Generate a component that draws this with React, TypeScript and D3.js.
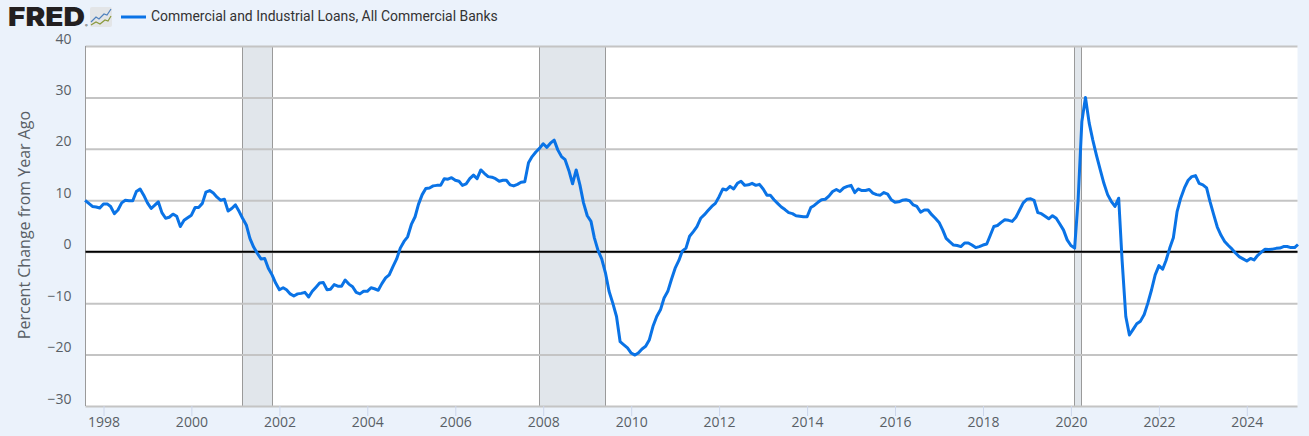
import * as React from 'react';
import * as d3 from 'd3';

const seriesName = 'Commercial and Industrial Loans, All Commercial Banks';
const yTitle = 'Percent Change from Year Ago';
const yTicks = [-30, -20, -10, 0, 10, 20, 30, 40];
const xTickYears = [1998, 2000, 2002, 2004, 2006, 2008, 2010, 2012, 2014, 2016, 2018, 2020, 2022, 2024];

// monthly, Aug 1997 to Mar 2025
const firstMonth = new Date(1997, 7, 1);
const values = [
  10.0, 9.4, 8.8, 8.7, 8.5, 9.3, 9.3, 8.8, 7.4, 8.1, 9.5, 10.0,
  9.9, 9.9, 11.7, 12.2, 11.0, 9.5, 8.4, 9.0, 9.7, 7.6, 6.5, 6.7,
  7.3, 6.9, 4.9, 6.1, 6.6, 7.1, 8.6, 8.6, 9.4, 11.6, 11.9, 11.4,
  10.6, 10.0, 10.2, 7.9, 8.4, 9.1, 7.8, 6.5, 5.2, 2.6, 0.9, -0.3,
  -1.4, -1.3, -3.2, -4.5, -6.1, -7.4, -7.0, -7.4, -8.2, -8.6, -8.2, -8.1,
  -7.9, -8.8, -7.7, -6.9, -6.1, -6.0, -7.4, -7.3, -6.4, -6.7, -6.7, -5.5,
  -6.3, -6.8, -7.9, -8.2, -7.7, -7.7, -7.0, -7.2, -7.5, -6.2, -5.1, -4.5,
  -2.9, -1.4, 0.7, 2.0, 2.9, 5.3, 6.8, 9.2, 11.1, 12.3, 12.4, 12.8,
  12.9, 12.9, 14.2, 14.1, 14.4, 13.9, 13.7, 12.9, 13.2, 14.2, 14.9, 14.2,
  15.9, 15.2, 14.6, 14.5, 14.2, 13.7, 13.9, 13.9, 13.0, 12.8, 13.1, 13.5,
  13.6, 17.3, 18.5, 19.4, 20.1, 21.0, 20.3, 21.1, 21.7, 19.8, 18.5, 17.9,
  15.8, 13.2, 15.9, 13.0, 9.5, 7.0, 5.9, 2.7, 0.2, -1.4, -4.1, -7.7,
  -10.0, -12.6, -17.5, -18.1, -18.7, -19.7, -20.1, -19.7, -18.9, -18.4, -17.1, -14.5,
  -12.6, -11.3, -9.0, -7.7, -5.4, -3.2, -1.7, 0.1, 0.7, 3.0, 3.9, 4.9,
  6.5, 7.2, 8.0, 8.8, 9.4, 10.7, 12.2, 12.0, 12.7, 12.2, 13.3, 13.7,
  12.9, 13.0, 13.3, 12.9, 13.1, 12.2, 11.0, 11.0, 10.1, 9.4, 8.7, 8.2,
  7.6, 7.4, 7.0, 6.9, 6.8, 6.8, 8.6, 9.0, 9.6, 10.1, 10.2, 10.8,
  11.7, 12.1, 11.7, 12.4, 12.7, 12.9, 11.5, 12.2, 11.9, 11.9, 12.1, 11.4,
  11.1, 11.0, 11.5, 11.2, 10.1, 9.6, 9.7, 10.0, 10.1, 9.9, 9.1, 8.8,
  7.7, 8.1, 8.1, 7.2, 6.5, 5.7, 4.2, 2.6, 1.9, 1.3, 1.2, 1.0,
  1.7, 1.7, 1.3, 0.8, 1.0, 1.3, 1.5, 3.1, 4.9, 5.1, 5.7, 6.2,
  6.1, 5.9, 6.7, 8.1, 9.5, 10.2, 10.3, 10.0, 7.6, 7.4, 6.9, 6.4,
  7.0, 6.5, 5.4, 4.2, 2.3, 1.2, 0.7, 10.1, 25.3, 30.0, 25.0, 21.7,
  18.7, 15.9, 13.3, 11.1, 9.8, 8.8, 10.4, -1.6, -12.6, -16.2, -15.1, -14.0,
  -13.5, -12.2, -10.0, -7.4, -4.5, -2.7, -3.4, -1.7, 0.7, 2.7, 7.8, 10.4,
  12.4, 13.9, 14.6, 14.8, 13.3, 13.0, 12.4, 9.8, 7.2, 4.8, 3.2, 2.0,
  1.2, 0.5, -0.3, -1.0, -1.4, -1.8, -1.3, -1.6, -0.7, -0.1, 0.5, 0.45,
  0.5, 0.65, 0.7, 1.0, 1.0, 0.8, 0.8, 1.4,
];

const recessionStarts = [new Date(2001, 2, 1), new Date(2007, 11, 1), new Date(2020, 1, 1)];
const recessionEnds = [new Date(2001, 10, 1), new Date(2009, 5, 1), new Date(2020, 3, 1)];

const width = 1309;
const height = 436;
const plot = {left: 85.5, right: 1297.5, top: 46, bottom: 406};
const labelFont = '"Open Sans", sans-serif';

const App = () => {
  const ref = React.useRef<SVGSVGElement>(null);

  React.useEffect(() => {
    const svg = d3.select(ref.current);
    svg.selectAll('*').remove();

    const dates = values.map((_, i) => d3.timeMonth.offset(firstMonth, i));
    // tick positions fix the scale: 1998 sits at 103.5 and 2024 at 1246.8
    const x = d3.scaleTime()
      .domain([new Date(1998, 0, 1), new Date(2024, 0, 1)])
      .range([103.5, 1246.8]);
    const y = d3.scaleLinear().domain([-30, 40]).range([plot.bottom, plot.top]);
    const snap = (d: Date) => Math.ceil(x(d)) - 0.5;

    svg.append('rect').attr('width', width).attr('height', height).attr('fill', '#ebf2fb');
    svg.append('rect')
      .attr('x', plot.left).attr('y', plot.top)
      .attr('width', plot.right - plot.left).attr('height', plot.bottom - plot.top)
      .attr('fill', '#fff');

    // recessions
    const rec = svg.append('g');
    rec.selectAll('rect').data(recessionStarts).enter().append('rect')
      .attr('x', d => snap(d))
      .attr('y', plot.top)
      .attr('width', (d, i) => snap(recessionEnds[i]) - snap(d))
      .attr('height', plot.bottom - plot.top)
      .attr('fill', '#e1e6eb');
    rec.selectAll('line').data([...recessionStarts, ...recessionEnds]).enter().append('line')
      .attr('x1', d => snap(d)).attr('x2', d => snap(d))
      .attr('y1', plot.top).attr('y2', plot.bottom)
      .attr('stroke', '#9a9a9a').attr('stroke-width', 1);

    // grid + y labels
    const yAxis = svg.append('g')
      .attr('transform', `translate(${plot.left},0)`)
      .call(d3.axisLeft(y).tickValues(yTicks).tickSize(-(plot.right - plot.left)).tickPadding(14));
    yAxis.select('.domain').remove();
    yAxis.selectAll('.tick line').attr('stroke', '#c4c4c4').attr('stroke-width', 2);
    yAxis.selectAll('.tick text')
      .attr('dy', '-3px')
      .style('font', `14px ${labelFont}`)
      .attr('fill', '#595f66');

    // left edge
    svg.append('line')
      .attr('x1', plot.left).attr('x2', plot.left)
      .attr('y1', plot.top).attr('y2', plot.bottom)
      .attr('stroke', '#9a9a9a').attr('stroke-width', 1);

    // x axis
    const xAxis = svg.append('g')
      .attr('transform', `translate(0,${plot.bottom})`)
      .call(d3.axisBottom(x)
        .tickValues(xTickYears.map(d => new Date(d, 0, 1)))
        .tickFormat(d3.timeFormat('%Y') as any)
        .tickSize(10)
        .tickPadding(1));
    xAxis.select('.domain').remove();
    xAxis.selectAll('.tick line').attr('stroke', '#ccd6eb');
    xAxis.selectAll('.tick text').style('font', `14px ${labelFont}`).attr('fill', '#595f66');

    // zero line
    svg.append('line')
      .attr('x1', plot.left).attr('x2', plot.right)
      .attr('y1', y(0)).attr('y2', y(0))
      .attr('stroke', '#000').attr('stroke-width', 2);

    const line = d3.line<number>()
      .x((_, i) => x(dates[i]))
      .y(d => y(d));
    svg.append('path')
      .attr('d', line(values))
      .attr('fill', 'none')
      .attr('stroke', '#0a73e6')
      .attr('stroke-width', 3)
      .attr('stroke-linejoin', 'round');

    svg.append('text')
      .attr('transform', `translate(30,${(plot.top + plot.bottom) / 2 - 1}) rotate(-90)`)
      .attr('text-anchor', 'middle')
      .style('font', `16px ${labelFont}`)
      .attr('fill', '#595f66')
      .text(yTitle);

    // header: logo and legend
    svg.append('text')
      .attr('x', 8).attr('y', 26)
      .attr('textLength', 77)
      .attr('lengthAdjust', 'spacingAndGlyphs')
      .style('font', '900 26px Inter, sans-serif')
      .attr('fill', '#231f20')
      .text('FRED');
    svg.append('text')
      .attr('x', 85).attr('y', 27)
      .style('font', '4px Inter, sans-serif')
      .attr('fill', '#231f20')
      .text('®');
    const logo = svg.append('g').attr('transform', 'translate(90,7)');
    logo.append('rect').attr('width', 22).attr('height', 20).attr('rx', 2).attr('fill', '#e3e5e7');
    logo.append('path').attr('d', 'M1,15 L6,10 L9,12 L14,7 L17,8 L21,2').attr('fill', 'none').attr('stroke', '#4f81bd').attr('stroke-width', 1.2);
    logo.append('path').attr('d', 'M1,18 L6,15 L10,17 L15,13 L18,14 L21,9').attr('fill', 'none').attr('stroke', '#8a9a3c').attr('stroke-width', 1.2);

    svg.append('line')
      .attr('x1', 121).attr('x2', 146).attr('y1', 17).attr('y2', 17)
      .attr('stroke', '#0a73e6').attr('stroke-width', 3);
    svg.append('text')
      .attr('x', 151).attr('y', 21)
      .style('font', '13.95px Roboto, sans-serif')
      .attr('fill', '#333')
      .text(seriesName);
  }, []);

  return <svg ref={ref} width={width} height={height} style={{position: 'absolute', left: 0, top: 0}}></svg>;
};

export default App;
